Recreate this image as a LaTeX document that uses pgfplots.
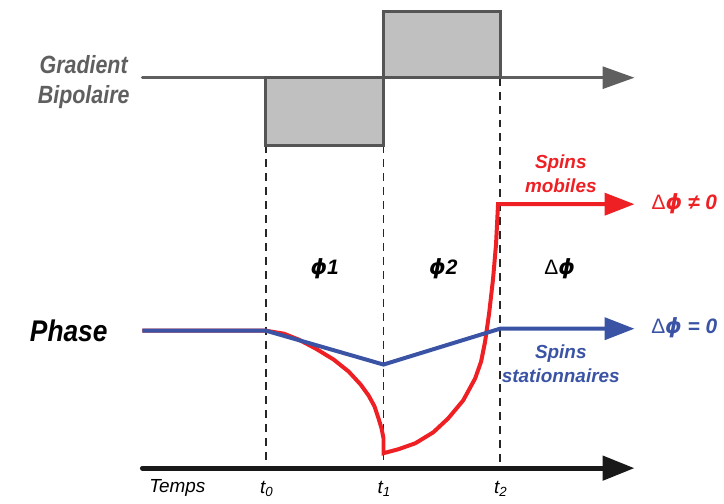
\documentclass[border=0pt]{standalone}
\usepackage{pgfplots}
\pgfplotsset{compat=1.18}
\usepackage{fontspec}
\setmainfont{Liberation Sans}
\newfontfamily\dv{DejaVu Sans}
\usetikzlibrary{arrows.meta}
\definecolor{gr}{HTML}{5F5F5F}
\definecolor{lobe}{HTML}{C0C0C0}
\definecolor{lobeb}{HTML}{555555}
\definecolor{rd}{HTML}{EE2024}
\definecolor{bl}{HTML}{3A53A4}
\newcommand{\ph}{{\dv\bfseries\itshape ϕ}}
\begin{document}
\begin{tikzpicture}
\begin{axis}[
  scale only axis, width=362pt, height=252.5pt,
  xmin=0, xmax=724, ymin=0, ymax=505, y dir=reverse,
  hide axis, clip=false,
  every node/.append style={inner sep=0.5pt},
]
\path (rel axis cs:0,0) rectangle (rel axis cs:1,1);
% dashed verticals
\addplot[black!85, dash pattern=on 4pt off 3pt, line width=0.6pt] coordinates {(267,146)(267,470)};
\addplot[black!85, dash pattern=on 4pt off 3pt, line width=0.6pt] coordinates {(385,146)(385,470)};
\addplot[black!85, dash pattern=on 4pt off 3pt, line width=0.6pt] coordinates {(502,78)(502,470)};
% gradient baseline
\addplot[gr, line width=1.5pt, line cap=round, -{Triangle[length=16pt,width=11pt]}] coordinates {(143,78)(637,78)};
% lobes
\addplot[fill=lobe, draw=lobeb, line width=1.5pt] coordinates {(267,78)(267,146)(385,146)(385,78)} -- cycle;
\addplot[fill=lobe, draw=lobeb, line width=1.5pt] coordinates {(385,78)(385,12)(502,12)(502,78)} -- cycle;
% time axis
\addplot[black!90, line width=2.5pt, line cap=round, -{Triangle[length=16pt,width=12pt]}] coordinates {(143,470)(637,470)};
% red phase
\addplot[rd, line width=2pt, -{Triangle[length=15pt,width=11pt]}] coordinates {
 (143,332)(267,332)(285,335)(300,341)(317,350)(335,361)(350,373)(362,386)(370,397)(376,408)(380,420)(383,430)(385,440)(385,455)
 (400,451)(417,445)(435,434)(450,420)(465,402)(477,380)(483,363)(487,343)(491,315)(495,280)(498,245)(500,205)(637,205)};
% blue phase
\addplot[bl, line width=2pt, -{Triangle[length=15pt,width=11pt]}] coordinates {(143,332)(267,332)(385,366)(502,330)(637,330)};
% texts
\node[gr, font=\fontsize{12.5}{16}\selectfont\bfseries\itshape] at (axis cs:84,65) {\scalebox{0.86}[1]{Gradient}};
\node[gr, font=\fontsize{12.5}{16}\selectfont\bfseries\itshape] at (axis cs:84,97) {\scalebox{0.86}[1]{Bipolaire}};
\node[font=\fontsize{15}{18}\selectfont\bfseries\itshape] at (axis cs:69,332) {\scalebox{0.88}[1]{Phase}};
\node[font=\fontsize{10.5}{13}\selectfont\bfseries\itshape] at (axis cs:326,270) {\ph1};
\node[font=\fontsize{10.5}{13}\selectfont\bfseries\itshape] at (axis cs:445,270) {\ph2};
\node[font=\fontsize{10.5}{13}\selectfont] at (axis cs:562,270) {Δ\ph};
\node[rd, font=\fontsize{9.5}{12}\selectfont\bfseries\itshape, align=center] at (axis cs:563,174) {Spins\\mobiles};
\node[bl, font=\fontsize{9.5}{12}\selectfont\bfseries\itshape, align=center] at (axis cs:563,365) {Spins\\stationnaires};
\node[rd, font=\fontsize{10.5}{13}\selectfont\bfseries\itshape] at (axis cs:687,205) {{\mdseries\upshape Δ}\ph\ ≠ 0};
\node[bl, font=\fontsize{10.5}{13}\selectfont\bfseries\itshape] at (axis cs:687,329) {{\mdseries\upshape Δ}\ph\ = 0};
\node[font=\fontsize{9.5}{12}\selectfont\itshape] at (axis cs:178,490) {Temps};
\node[font=\fontsize{9.5}{12}\selectfont\itshape] at (axis cs:268,491) {t\textsubscript{0}};
\node[font=\fontsize{9.5}{12}\selectfont\itshape] at (axis cs:386,491) {t\textsubscript{1}};
\node[font=\fontsize{9.5}{12}\selectfont\itshape] at (axis cs:503,491) {t\textsubscript{2}};
\end{axis}
\end{tikzpicture}
\end{document}
